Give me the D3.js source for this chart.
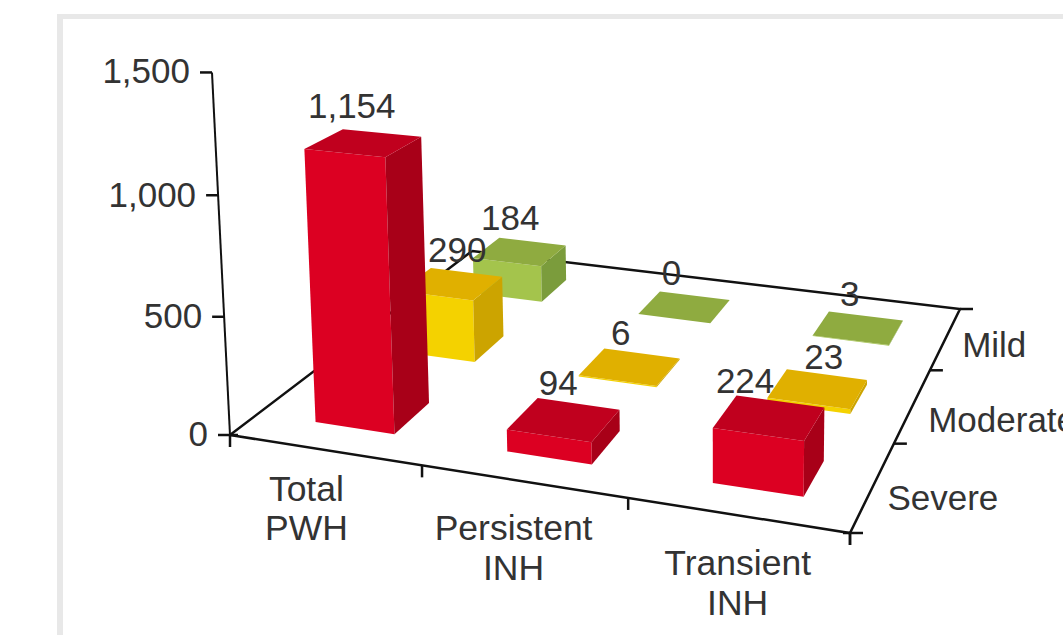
<!DOCTYPE html>
<html>
<head>
<meta charset="utf-8">
<script src="https://cdn.jsdelivr.net/npm/d3@7"></script>
<style>
  html, body { margin: 0; background: #fff; }
  svg { display: block; }
  text { font-family: "Liberation Sans", Arial, sans-serif; font-size: 35px; fill: #333; }
  .category { font-size: 35.5px; }
</style>
</head>
<body>
<svg id="chart" width="1063" height="635"></svg>
<script>
const categories = ['Total PWH', 'Persistent INH', 'Transient INH']
const severities = ['Severe', 'Moderate', 'Mild']
const severeCounts = [1154, 94, 224]
const moderateCounts = [290, 6, 23]
const mildCounts = [184, 0, 3]
const valueTicks = [0, 500, 1000, 1500]

const palette = {
  Severe: { front: '#dc0022', top: '#c0001e', side: '#a80018' },
  Moderate: { front: '#f4d200', top: '#e0b000', side: '#cca400' },
  Mild: { front: '#a4c44c', top: '#8fab40', side: '#7b9c3c' }
}

// floor corners on screen: front-left, front-right, back-right, back-left
const A = [230, 435]
const B = [850, 533]
const C = [960, 309]
const D = [472, 251]

// square to quad perspective mapping for the floor
const dx1 = B[0] - C[0]
const dy1 = B[1] - C[1]
const dx2 = D[0] - C[0]
const dy2 = D[1] - C[1]
const sx = A[0] - B[0] + C[0] - D[0]
const sy = A[1] - B[1] + C[1] - D[1]
const det = dx1 * dy2 - dx2 * dy1
const g = (sx * dy2 - dx2 * sy) / det
const h = (dx1 * sy - sx * dy1) / det

function floor (u, v) {
  const w = 1 + g * u + h * v
  return [
    (A[0] + (B[0] - A[0] + g * B[0]) * u + (D[0] - A[0] + h * D[0]) * v) / w,
    (A[1] + (B[1] - A[1] + g * B[1]) * u + (D[1] - A[1] + h * D[1]) * v) / w
  ]
}

// verticals converge on a far point below the chart
const vanish = [720, 10300]
const height = d3.scalePow().exponent(1.02).domain([0, 1500]).range([0, 363])

function point (u, v, value) {
  const p = floor(u, v)
  const w = 1 + g * u + h * v
  const len = Math.hypot(p[0] - vanish[0], p[1] - vanish[1])
  const k = height(value) / w / len
  return [p[0] + (p[0] - vanish[0]) * k, p[1] + (p[1] - vanish[1]) * k]
}

const uScale = d3.scaleBand().domain(categories).range([0.007, 1.007]).paddingInner(0.58).paddingOuter(0.29)
const vScale = d3.scaleBand().domain(severities).range([-0.005, 0.995]).paddingInner(0.592).paddingOuter(0.296)

const svg = d3.select('#chart')
const line = d3.line()
const poly = pts => line(pts) + 'Z'

// page frame
svg.append('rect').attr('x', 57).attr('y', 14).attr('width', 1006).attr('height', 5).attr('fill', '#e8e8e8')
svg.append('rect').attr('x', 57).attr('y', 14).attr('width', 6).attr('height', 621).attr('fill', '#e8e8e8')

// axes
const axes = svg.append('g').attr('fill', 'none').attr('stroke', '#111').attr('stroke-width', 2.5)
axes.append('path').attr('d', line([D, A, B, C, D]))
axes.append('path').attr('d', line([point(0, 0, 0), point(0, 0, 1500)])).attr('stroke-width', 2)

valueTicks.forEach(t => {
  const p = point(0, 0, t)
  axes.append('path').attr('d', line([[p[0] - 12, p[1]], [p[0] + (t === 0 ? 8 : 0), p[1]]]))
  svg.append('text')
    .attr('x', p[0] - 22)
    .attr('y', p[1] - (t === 1500 ? 2 : 1))
    .attr('dy', '0.35em')
    .attr('text-anchor', 'end')
    .text(d3.format(',')(t))
})
axes.append('path').attr('d', line([A, [A[0], A[1] + 12]]))

d3.range(0, 4).forEach(i => {
  if (i > 0) {
    const p = floor(i / 3, 0)
    axes.append('path').attr('d', line([p, [p[0], p[1] + 12]]))
  }
  const q = floor(1, i / 3)
  axes.append('path').attr('d', line([[q[0] - (i === 0 ? 7 : 0), q[1]], [q[0] + 13, q[1]]]))
})
axes.append('path').attr('d', line([B, [B[0], B[1] + 12]]))

// category labels under the front edge
const categoryOffset = [[-22, 38], [-14, 46], [-4, 47]]
categories.forEach((c, i) => {
  const p = floor(uScale(c) + uScale.bandwidth() / 2, 0)
  c.split(' ').forEach((word, j) => {
    svg.append('text')
      .attr('class', 'category')
      .attr('x', p[0] + categoryOffset[i][0])
      .attr('y', p[1] + categoryOffset[i][1] + j * 39.5)
      .attr('dy', '0.35em')
      .attr('text-anchor', 'middle')
      .text(word)
  })
})

// severity labels right of the side edge
const severityOffset = [[15, 10], [16, 13], [17, 5]]
severities.forEach((s, i) => {
  const p = floor(1, vScale(s) + vScale.bandwidth() / 2)
  svg.append('text')
    .attr('x', p[0] + severityOffset[i][0])
    .attr('y', p[1] + severityOffset[i][1])
    .attr('dy', '0.35em')
    .text(s)
})

const counts = { Severe: severeCounts, Moderate: moderateCounts, Mild: mildCounts }

// bars back to front, so nearer ones cover farther ones
const bars = svg.append('g')
const labels = []
const labelOffset = {
  Severe: [[-30, -27], [-20, -21], [-35, -21]],
  Moderate: [[-9, -23], [-21, -21], [-3, -18]],
  Mild: [[-22, -24], [-23, -23], [-16, -22]]
}

severities.slice().reverse().forEach(s => {
  categories.forEach((c, i) => {
    const value = counts[s][i]
    const u0 = uScale(c)
    const u1 = u0 + uScale.bandwidth()
    const v0 = vScale(s)
    const v1 = v0 + vScale.bandwidth()
    const color = palette[s]

    bars.append('path').attr('fill', color.front)
      .attr('d', poly([point(u0, v0, 0), point(u1, v0, 0), point(u1, v0, value), point(u0, v0, value)]))
    bars.append('path').attr('fill', color.side)
      .attr('d', poly([point(u1, v0, 0), point(u1, v1, 0), point(u1, v1, value), point(u1, v0, value)]))
    bars.append('path').attr('fill', color.top)
      .attr('d', poly([point(u0, v0, value), point(u1, v0, value), point(u1, v1, value), point(u0, v1, value)]))

    const back = point((u0 + u1) / 2, v1, value)
    labels.push({
      value,
      x: back[0] + labelOffset[s][i][0],
      y: back[1] + labelOffset[s][i][1]
    })
  })
})

svg.append('g').selectAll('text')
  .data(labels)
  .join('text')
  .attr('x', d => d.x)
  .attr('y', d => d.y)
  .attr('dy', '0.35em')
  .attr('text-anchor', 'middle')
  .text(d => d3.format(',')(d.value))
</script>
</body>
</html>
